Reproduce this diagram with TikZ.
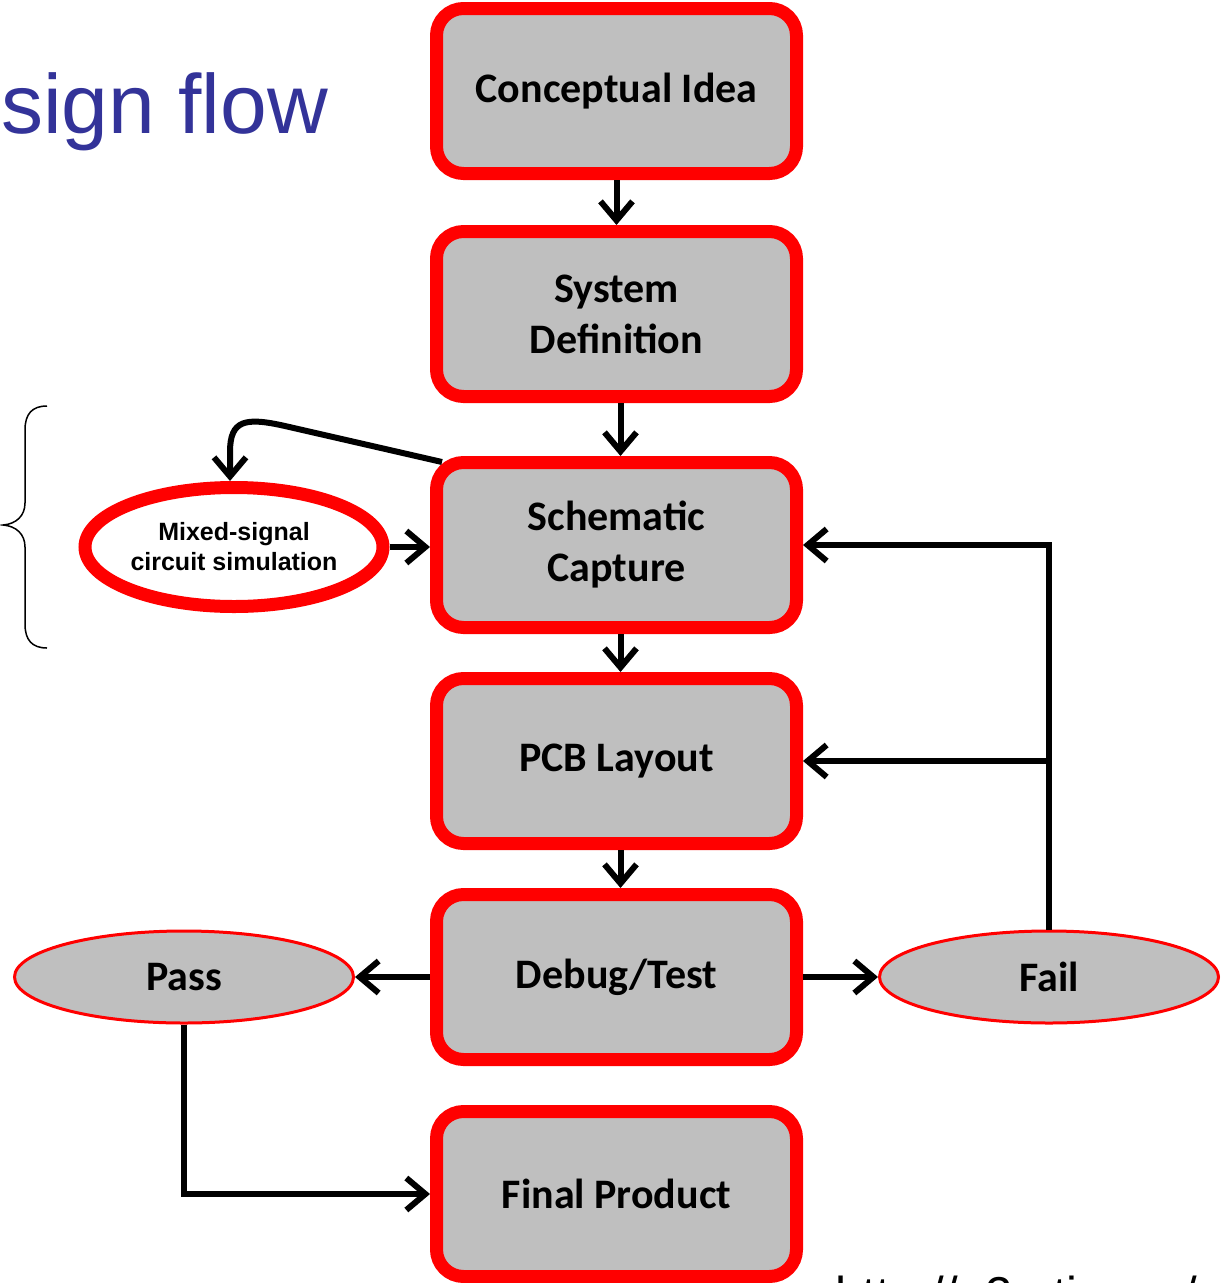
\documentclass[tikz,border=0pt]{standalone}
\usepackage{fontspec}
\setmainfont{Carlito}
\newfontfamily\arialf{Liberation Sans}
\usetikzlibrary{arrows.meta,shapes.geometric}
\definecolor{boxgray}{RGB}{191,191,191}
\definecolor{titleblue}{RGB}{51,51,153}
\definecolor{bordred}{RGB}{255,0,0}
\tikzset{
  stepbox/.style={draw=bordred, line width=13pt, fill=boxgray, rounded corners=27pt,
    minimum width=360pt, minimum height=165pt, inner sep=0pt, align=center,
    font=\fontsize{42}{51}\selectfont\bfseries},
  pfnode/.style={ellipse, draw=bordred, line width=3pt, fill=boxgray,
    minimum width=339pt, minimum height=92pt, inner sep=0pt,
    font=\fontsize{42}{51}\selectfont\bfseries},
  simnode/.style={ellipse, draw=bordred, line width=13pt, fill=white,
    minimum width=298pt, minimum height=119pt, inner sep=0pt, align=center,
    font=\arialf\bfseries\fontsize{25}{30}\selectfont},
  flowarrow/.style={line width=6pt, -{Straight Barb[length=19pt,width=32pt]}},
}
\begin{document}
\begin{tikzpicture}[x=1pt,y=-1pt]
\useasboundingbox (0,0) rectangle (1221,1283);

% title and url
\node[anchor=base west, inner sep=0pt, text=titleblue,
  font=\arialf\fontsize{84}{84}\selectfont] (title) at (1,133) {sign flow};
\node[anchor=base west, inner sep=0pt,
  font=\arialf\fontsize{49}{49}\selectfont] (url) at (835,1311) {http://e2e.ti.com/};

% main boxes
\node[stepbox] (ci)  at (616.5,91)   {Conceptual Idea};
\node[stepbox] (sd)  at (616.5,314)  {System\\Definition};
\node[stepbox] (sc)  at (616.5,545)  {Schematic\\Capture};
\node[stepbox] (pcb) at (616.5,761)  {PCB Layout};
\node[stepbox] (dt)  at (616.5,977)  {Debug/Test};
\node[stepbox] (fp)  at (616.5,1194) {Final Product};

% side nodes
\node[simnode] (ms)   at (234,547)  {Mixed-signal\\circuit simulation};
\node[pfnode]  (pass) at (184,977)  {Pass};
\node[pfnode]  (fail) at (1049,977) {Fail};

% vertical flow
\draw[flowarrow] (ci.south) -- (sd.north);
\draw[flowarrow] ([xshift=4pt]sd.south) -- ([xshift=4pt]sc.north);
\draw[flowarrow] ([xshift=4pt]sc.south) -- ([xshift=4pt]pcb.north);
\draw[flowarrow] ([xshift=4pt]pcb.south) -- ([xshift=4pt]dt.north);

% simulation loop
\draw[flowarrow] ([shift={(12,6)}]sc.north west) -- (285,426)
  .. controls (245,417) and (230,420) .. (230,452) -- (ms.north -| 230,0);
\draw[flowarrow] (ms.east) -- (ms.east -| sc.west);

% pass / fail
\draw[flowarrow] (dt.west) -- (pass.east);
\draw[flowarrow] (dt.east) -- (fail.west);
\draw[flowarrow] (pass.south) |- (fp.west);
\draw[flowarrow] (fail.north) |- (sc.east);
\draw[flowarrow] (fail.north |- pcb.east) -- (pcb.east);

% brace
\draw[line width=1.5pt] (47,406) .. controls (32,406) and (25,414) .. (25,430)
  -- (25,503) .. controls (25,516) and (16,524) .. (3,525)
  .. controls (16,526) and (25,534) .. (25,547)
  -- (25,624) .. controls (25,640) and (32,648) .. (47,648);
\end{tikzpicture}
\end{document}
